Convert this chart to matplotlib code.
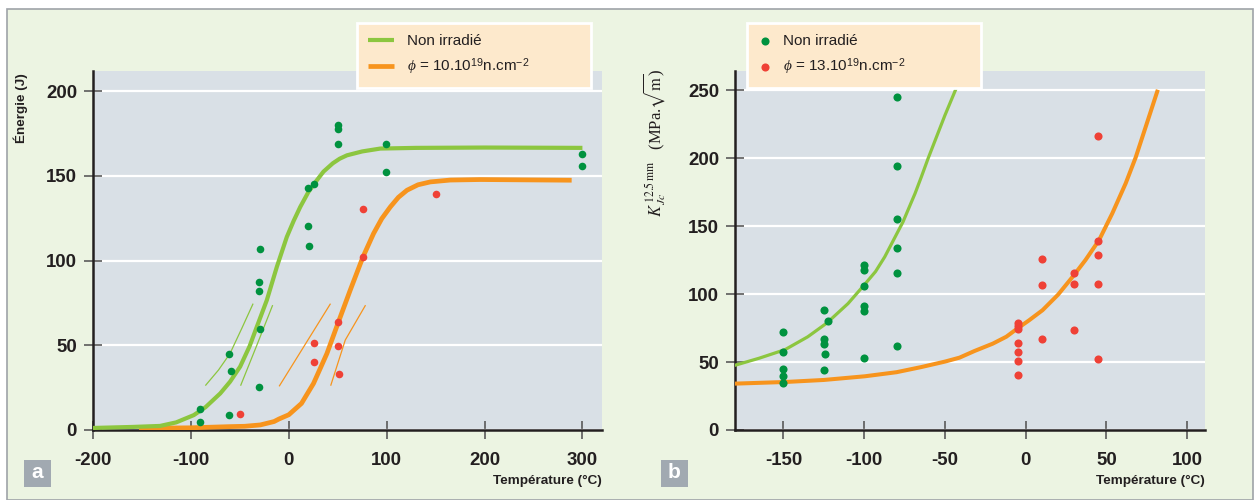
import matplotlib
matplotlib.use("Agg")
import matplotlib.pyplot as plt
from matplotlib.patches import Rectangle

plt.rcParams['font.family'] = ['Liberation Sans', 'DejaVu Sans']
plt.rcParams['axes.unicode_minus'] = False
plt.rcParams['mathtext.fontset'] = 'custom'
plt.rcParams['mathtext.rm'] = 'Liberation Sans'
plt.rcParams['mathtext.it'] = 'Liberation Serif:italic'
plt.rcParams['mathtext.bf'] = 'Liberation Sans:bold'

# couleurs
GREEN_LINE = '#8cc63f'
ORANGE_LINE = '#f7941d'
GREEN_DOT = '#00923f'
RED_DOT = '#ef4136'
PANEL_BG = '#d9e0e6'
FIG_BG = '#ecf4e2'
LEGEND_BG = '#fde9cc'
TEXT_COL = '#231f20'

# ---------- (a) énergie de rupture (Charpy) ----------
a_green_T = [-91, -91, -61, -61, -59, -30, -29, -30, -30, -29,
             19.5, 21, 19.5, 26, 50, 50, 50, 99.5, 99.5, 300, 300]
a_green_E = [12.2, 4.5, 9, 44.6, 35, 25.4, 59.4, 87.5, 81.8, 106.6,
             120.4, 108.7, 143, 145.5, 169, 178, 180, 168.7, 152.6, 163, 155.7]
a_red_T = [-50, 25.6, 25.6, 50.8, 50.8, 51.8, 75.8, 76.1, 150.7]
a_red_E = [9.4, 51.1, 40.3, 63.9, 49.7, 33, 101.9, 130.8, 139.6]

# courbes
a_curve_green_T = [-200, -160, -131.5, -115, -97, -85, -70, -60, -49.7, -40, -32.6,
                   -22.4, -12.2, -2, 5, 11.7, 20, 28.7, 35.5, 45, 52, 59.4, 75, 93.5,
                   130, 200, 300]
a_curve_green_E = [1.2, 1.8, 2.4, 4.5, 8.8, 13.5, 21.6, 28.5, 37.4, 49.5, 61,
                   76.7, 96.3, 114, 123.5, 131.7, 140.5, 147.5, 152.6, 157.5, 160.2, 162.2,
                   164.5, 166.2, 166.6, 166.8, 166.6]
a_curve_orange_T = [-153, -100, -60, -45, -29, -15, -10, 0, 13, 25.3, 39, 50.8,
                    62.8, 75.8, 86.6, 95, 103.7, 112, 120.8, 132, 144.6, 165, 195.7, 289]
a_curve_orange_E = [1.0, 1.3, 2.0, 2.2, 3.0, 5.0, 6.5, 9.0, 15.7, 27.5, 45.2, 63.9,
                    82.6, 102.2, 116, 124.8, 131.7, 137.4, 141.6, 144.8, 146.5, 147.6, 147.9, 147.5]

# bandes de dispersion (traits fins)
a_band_g1_T = [-84.8, -71.8, -60, -48, -36.7]
a_band_g1_E = [26.5, 35.4, 45.2, 60, 74.3]
a_band_g2_T = [-49, -32.6, -16.7]
a_band_g2_E = [26.5, 50.1, 73.4]
a_band_o1_T = [-9.5, 42.3]
a_band_o1_E = [26.1, 74.3]
a_band_o2_T = [43, 57.7, 78.1]
a_band_o2_E = [26.5, 53.1, 73.4]

a_xticks = [-200, -100, 0, 100, 200, 300]
a_yticks = [0, 50, 100, 150, 200]

# ---------- (b) ténacité K_Jc ----------
b_green_T = [-150] * 5 + [-125, -122.3, -125, -125, -124, -125] + [-100] * 6 + [-80] * 6
b_green_K = [72.1, 57.4, 45.1, 39.5, 34.5,
             88.3, 80.2, 67.2, 63.5, 55.7, 44.4,
             121.7, 117.7, 106, 91.2, 87.6, 53.2,
             244.7, 194.3, 155.1, 133.5, 115.5, 62.1]
b_red_T = [-5] * 7 + [10] * 3 + [30] * 3 + [45] * 5
b_red_K = [78.7, 76.5, 74.3, 64.3, 57.1, 50.7, 40.2,
           125.4, 106.3, 67,
           115.1, 107.5, 73.3,
           216.4, 139.1, 128.8, 107.5, 52.5]

b_curve_green_T = [-180, -165, -149, -135, -123.1, -110, -99.6, -93, -87.3, -79.7,
                   -76, -72.9, -68.5, -64.6, -60.5, -56.4, -50, -43.5]
b_curve_green_K = [47.6, 52.8, 59.1, 68.5, 78.7, 93, 107.2, 116.5, 127.3, 144.6,
                   153, 161.7, 174, 186.2, 199.5, 212, 231.5, 250]
b_curve_orange_T = [-180, -149, -125, -99.6, -80, -64.6, -50, -41, -31.7, -20.4, -12, -5.2,
                    2, 10.4, 20, 29, 37, 45.4, 53.6, 61.9, 68.1, 74.3, 81.4]
b_curve_orange_K = [34.1, 35.3, 36.8, 39.5, 42.5, 46.3, 50.3, 53.2, 58.1, 63.5, 68.6, 74.6,
                    80.6, 88.1, 99.5, 112.6, 125, 139.6, 159.3, 181.4, 200.5, 223, 248.8]

b_xticks = [-150, -100, -50, 0, 50, 100]
b_yticks = [0, 50, 100, 150, 200, 250]

a_labels = ['Non irradié', r'$\phi$ = 10.10$^{19}$n.cm$^{-2}$']
b_labels = ['Non irradié', r'$\phi$ = 13.10$^{19}$n.cm$^{-2}$']

W, H = 1255, 500
fig = plt.figure(figsize=(W / 100, H / 100), dpi=100)
fig.patch.set_facecolor('white')
fig.add_artist(Rectangle((7 / W, 0), 1246 / W, 491 / H, transform=fig.transFigure,
                         facecolor=FIG_BG, edgecolor='#9ea3a8', lw=1.2, zorder=-10))

ax1 = fig.add_axes([93 / W, 70 / H, 509 / W, 359 / H])
ax2 = fig.add_axes([735 / W, 70 / H, 470 / W, 359 / H])


def style(ax, xt, yt):
    ax.set_facecolor(PANEL_BG)
    for s in ['top', 'right']:
        ax.spines[s].set_visible(False)
    for s in ['left', 'bottom']:
        ax.spines[s].set_color(TEXT_COL)
        ax.spines[s].set_linewidth(1.8)
    ax.set_xticks(xt)
    ax.set_yticks(yt)
    ax.tick_params(direction='inout', length=13, width=1.2, color='#5a5a5a',
                   labelsize=13.4, labelcolor=TEXT_COL)
    ax.tick_params(axis='x', pad=9)
    ax.tick_params(axis='y', pad=5)
    plt.setp(ax.get_xticklabels() + ax.get_yticklabels(), fontweight='bold')
    ax.yaxis.grid(True, color='white', lw=1.6)
    ax.set_axisbelow(True)


# panneau a
style(ax1, a_xticks, a_yticks)
ax1.set_xlim(-200, 320)
ax1.set_ylim(0, 212)
for bt, be, c in [(a_band_g1_T, a_band_g1_E, GREEN_LINE), (a_band_g2_T, a_band_g2_E, GREEN_LINE),
                  (a_band_o1_T, a_band_o1_E, ORANGE_LINE), (a_band_o2_T, a_band_o2_E, ORANGE_LINE)]:
    ax1.plot(bt, be, color=c, lw=0.9, zorder=2)
l_or, = ax1.plot(a_curve_orange_T, a_curve_orange_E, color=ORANGE_LINE, lw=3.4,
                 solid_capstyle='butt', solid_joinstyle='round', zorder=3)
l_gr, = ax1.plot(a_curve_green_T, a_curve_green_E, color=GREEN_LINE, lw=3.0,
                 solid_capstyle='butt', solid_joinstyle='round', zorder=3)
ax1.scatter(a_green_T, a_green_E, s=30, color=GREEN_DOT, lw=0, zorder=4, clip_on=False)
ax1.scatter(a_red_T, a_red_E, s=30, color=RED_DOT, lw=0, zorder=4)
ax1.set_ylabel('Énergie (J)', fontsize=9.7, fontweight='bold', color=TEXT_COL)
ax1.yaxis.set_label_coords(-0.127, 0.897)
ax1.set_xlabel('Température (°C)', fontsize=9.7, fontweight='bold', color=TEXT_COL,
               ha='right', va='center')
ax1.xaxis.set_label_coords(1.0, -0.142)

leg1 = ax1.legend([l_gr, l_or], a_labels,
                  loc='upper left', bbox_to_anchor=(0.519, 1.133, 0.459, 0), mode='expand',
                  borderaxespad=0, fontsize=11, fancybox=False, framealpha=1,
                  facecolor=LEGEND_BG, edgecolor='white', borderpad=0.7,
                  handlelength=1.7, handletextpad=0.85, labelspacing=0.55)
leg1.get_frame().set_linewidth(2)
for t in leg1.get_texts():
    t.set_color(TEXT_COL)

# panneau b
style(ax2, b_xticks, b_yticks)
ax2.set_xlim(-180, 111)
ax2.set_ylim(0, 264)
ax2.plot(b_curve_green_T, b_curve_green_K, color=GREEN_LINE, lw=2.3,
         solid_joinstyle='round', zorder=3)
ax2.plot(b_curve_orange_T, b_curve_orange_K, color=ORANGE_LINE, lw=2.9,
         solid_joinstyle='round', zorder=3)
s_gr = ax2.scatter(b_green_T, b_green_K, s=34, color=GREEN_DOT, lw=0, zorder=4)
s_rd = ax2.scatter(b_red_T, b_red_K, s=34, color=RED_DOT, lw=0, zorder=4)
ax2.set_ylabel(r'$K_{\,Jc}^{\,\mathrm{12.5\,mm}}$   (MPa.$\sqrt{\mathrm{m}}$)',
               fontsize=12, family='Liberation Serif', math_fontfamily='stix', color=TEXT_COL)
ax2.yaxis.set_label_coords(-0.142, 0.8)
ax2.set_xlabel('Température (°C)', fontsize=9.7, fontweight='bold', color=TEXT_COL,
               ha='right', va='center')
ax2.xaxis.set_label_coords(1.0, -0.142)

leg2 = ax2.legend([s_gr, s_rd], b_labels,
                  loc='upper left', bbox_to_anchor=(0.025, 1.133, 0.498, 0), mode='expand',
                  borderaxespad=0, fontsize=11, fancybox=False, framealpha=1,
                  facecolor=LEGEND_BG, edgecolor='white', borderpad=0.7, scatterpoints=1,
                  handlelength=1.0, handletextpad=0.7, labelspacing=0.55)
leg2.get_frame().set_linewidth(2)
for t in leg2.get_texts():
    t.set_color(TEXT_COL)

# étiquettes de panneau
for x0, lab in [(24, 'a'), (661, 'b')]:
    fig.add_artist(Rectangle((x0 / W, 13 / H), 27 / W, 27 / H, transform=fig.transFigure,
                             facecolor='#a1a9b1', edgecolor='none'))
    fig.text((x0 + 13.5) / W, 27 / H, lab, color='white', fontsize=15, fontweight='bold',
             ha='center', va='center')

fig.savefig('out.png', dpi=100, facecolor=fig.get_facecolor())
